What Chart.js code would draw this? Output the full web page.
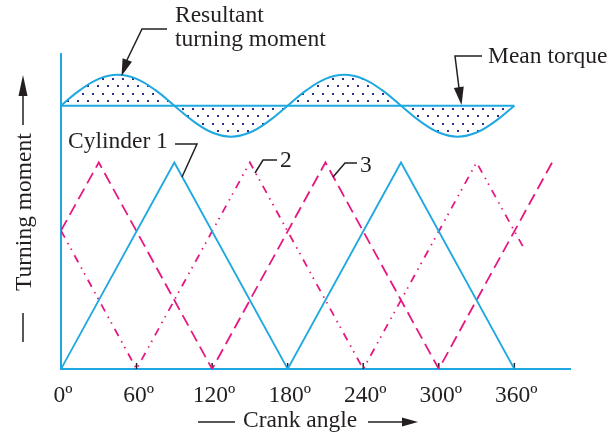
<!DOCTYPE html>
<html>
<head>
<meta charset="utf-8">
<script src="https://cdn.jsdelivr.net/npm/chart.js@4.4.1/dist/chart.umd.min.js"></script>
<style>
    body { margin: 0; background: #fff; }
    canvas { display: block; }
</style>
</head>
<body>
<canvas id="myChart" width="611" height="435"></canvas>
<script>
// crank angles (deg) and turning moments (peak of one cylinder = 100)
const cyl1Angles = [0, 90, 180, 270, 360];
const cyl1Values = [0, 100, 0, 100, 0];

const cyl2Angles = [0, 60, 150, 240, 330, 368];
const cyl2Values = [67, 0, 100, 0, 100, 58];

const cyl3Angles = [0, 30, 120, 210, 300, 390];
const cyl3Values = [67, 100, 0, 100, 0, 100];

const meanAngles = [0, 360];
const meanValues = [127.5, 127.5];

const resAngles = [0, 15, 30, 45, 60, 75, 90, 105, 120, 135, 150, 165, 180,
    195, 210, 225, 240, 255, 270, 285, 300, 315, 330, 345, 360];
const resValues = [127.5, 135, 140.5, 142.5, 140.5, 135, 127.5, 120, 114.5, 112.5, 114.5, 120, 127.5,
    135, 140.5, 142.5, 140.5, 135, 127.5, 120, 114.5, 112.5, 114.5, 120, 127.5];

const tickAngles = [0, 60, 120, 180, 240, 300, 360];
const tickLabels = ['0º', '60º', '120º', '180º', '240º', '300º', '360º'];

const CYAN = '#1fa8e0';
const MAGENTA = '#e6177f';
const INK = '#231f20';
const FONT = '23.5px "Liberation Serif", "Times New Roman", serif';

function toPoints(xs, ys) {
    let pts = [];
    for (let i = 0; i < xs.length; i++) {
        pts.push({x: xs[i], y: ys[i]});
    }
    return pts;
}

function dotPattern() {
    const c = document.createElement('canvas');
    c.width = 10;
    c.height = 15;
    const g = c.getContext('2d');
    g.fillStyle = '#2b2e8c';
    g.fillRect(2, 3, 2, 2);
    g.fillRect(7, 10, 2, 2);
    return g.createPattern(c, 'repeat');
}

function arrowHead(ctx, tipX, tipY, dx, dy, len, half) {
    // dx,dy = unit direction of travel
    const bx = tipX - dx * len;
    const by = tipY - dy * len;
    ctx.beginPath();
    ctx.moveTo(tipX, tipY);
    ctx.lineTo(bx - dy * half, by + dx * half);
    ctx.lineTo(bx + dy * half, by - dx * half);
    ctx.closePath();
    ctx.fill();
}

function line(ctx, pts) {
    ctx.beginPath();
    ctx.moveTo(pts[0][0], pts[0][1]);
    for (let i = 1; i < pts.length; i++)
        ctx.lineTo(pts[i][0], pts[i][1]);
    ctx.stroke();
}

const decor = {
    id: 'decor',
    beforeDatasetsDraw(chart) {
        const ctx = chart.ctx;
        const xs = chart.scales.x;
        const ys = chart.scales.y;
        const x0 = xs.getPixelForValue(0);
        const y0 = ys.getPixelForValue(0);
        ctx.save();
        ctx.strokeStyle = CYAN;
        ctx.lineWidth = 2;
        line(ctx, [[x0, ys.top], [x0, y0], [xs.right, y0]]);
        ctx.strokeStyle = INK;
        ctx.lineWidth = 1.5;
        for (let i = 1; i < tickAngles.length; i++) {
            const tx = xs.getPixelForValue(tickAngles[i]);
            line(ctx, [[tx, y0 - 6], [tx, y0]]);
        }
        ctx.restore();
    },
    afterDraw(chart) {
        const ctx = chart.ctx;
        const xs = chart.scales.x;
        const ys = chart.scales.y;
        const y0 = ys.getPixelForValue(0);
        ctx.save();
        ctx.font = FONT;
        ctx.fillStyle = INK;
        ctx.strokeStyle = INK;
        ctx.lineWidth = 1.5;

        // tick labels
        ctx.textAlign = 'center';
        for (let i = 0; i < tickAngles.length; i++) {
            ctx.fillText(tickLabels[i], xs.getPixelForValue(tickAngles[i]) + 2, y0 + 33);
        }

        // x title
        ctx.textAlign = 'left';
        ctx.fillText('Crank angle', 243, 427);
        line(ctx, [[198, 422], [235, 422]]);
        line(ctx, [[368, 422], [404, 422]]);
        arrowHead(ctx, 418, 422, 1, 0, 16, 4.5);

        // y title
        ctx.save();
        ctx.translate(31, 291);
        ctx.rotate(-Math.PI / 2);
        ctx.fillText('Turning moment', 0, 0);
        ctx.restore();
        line(ctx, [[23, 342], [23, 313]]);
        line(ctx, [[23, 125], [23, 94]]);
        arrowHead(ctx, 23, 75, 0, -1, 21, 4.5);

        // annotations
        ctx.fillText('Resultant', 175, 22);
        ctx.fillText('turning moment', 175, 46);
        line(ctx, [[167, 29], [142, 29], [126, 62]]);
        arrowHead(ctx, 121.5, 76, -0.34, 0.94, 17, 5);

        ctx.fillText('Mean torque', 488, 63);
        line(ctx, [[482, 56], [455, 56], [459, 88]]);
        arrowHead(ctx, 461.5, 105, 0.15, 0.99, 18, 5);

        ctx.fillText('Cylinder 1', 68, 148);
        line(ctx, [[175, 144], [197, 144], [182, 177]]);

        ctx.fillText('2', 280, 167);
        line(ctx, [[277, 160], [263, 160], [255, 173]]);

        ctx.fillText('3', 360, 172);
        line(ctx, [[357, 163], [345, 163], [333, 177]]);

        ctx.restore();
    }
};

new Chart('myChart', {
    type: 'line',
    data: {
        datasets: [{
            label: 'Cylinder 1',
            data: toPoints(cyl1Angles, cyl1Values),
            borderColor: CYAN,
            borderWidth: 1.8,
            fill: false
        }, {
            label: 'Cylinder 2',
            data: toPoints(cyl2Angles, cyl2Values),
            borderColor: MAGENTA,
            borderWidth: 1.8,
            borderDash: [8, 6, 1.5, 5, 1.5, 6],
            fill: false
        }, {
            label: 'Cylinder 3',
            data: toPoints(cyl3Angles, cyl3Values),
            borderColor: MAGENTA,
            borderWidth: 1.8,
            borderDash: [12, 6],
            fill: false
        }, {
            label: 'Mean torque',
            data: toPoints(meanAngles, meanValues),
            borderColor: CYAN,
            borderWidth: 2,
            fill: false
        }, {
            label: 'Resultant turning moment',
            data: toPoints(resAngles, resValues),
            borderColor: CYAN,
            borderWidth: 2,
            tension: 0.4,
            backgroundColor: dotPattern(),
            fill: {target: 3}
        }]
    },
    options: {
        responsive: false,
        animation: false,
        devicePixelRatio: 1,
        layout: {
            padding: {left: 61, right: 40, top: 53, bottom: 66}
        },
        elements: {
            point: {radius: 0, hoverRadius: 0},
            line: {borderCapStyle: 'butt'}
        },
        scales: {
            x: {type: 'linear', min: 0, max: 405, display: false},
            y: {type: 'linear', min: 0, max: 153, display: false}
        },
        plugins: {
            legend: {display: false},
            tooltip: {enabled: false}
        }
    },
    plugins: [decor]
});
</script>
</body>
</html>
